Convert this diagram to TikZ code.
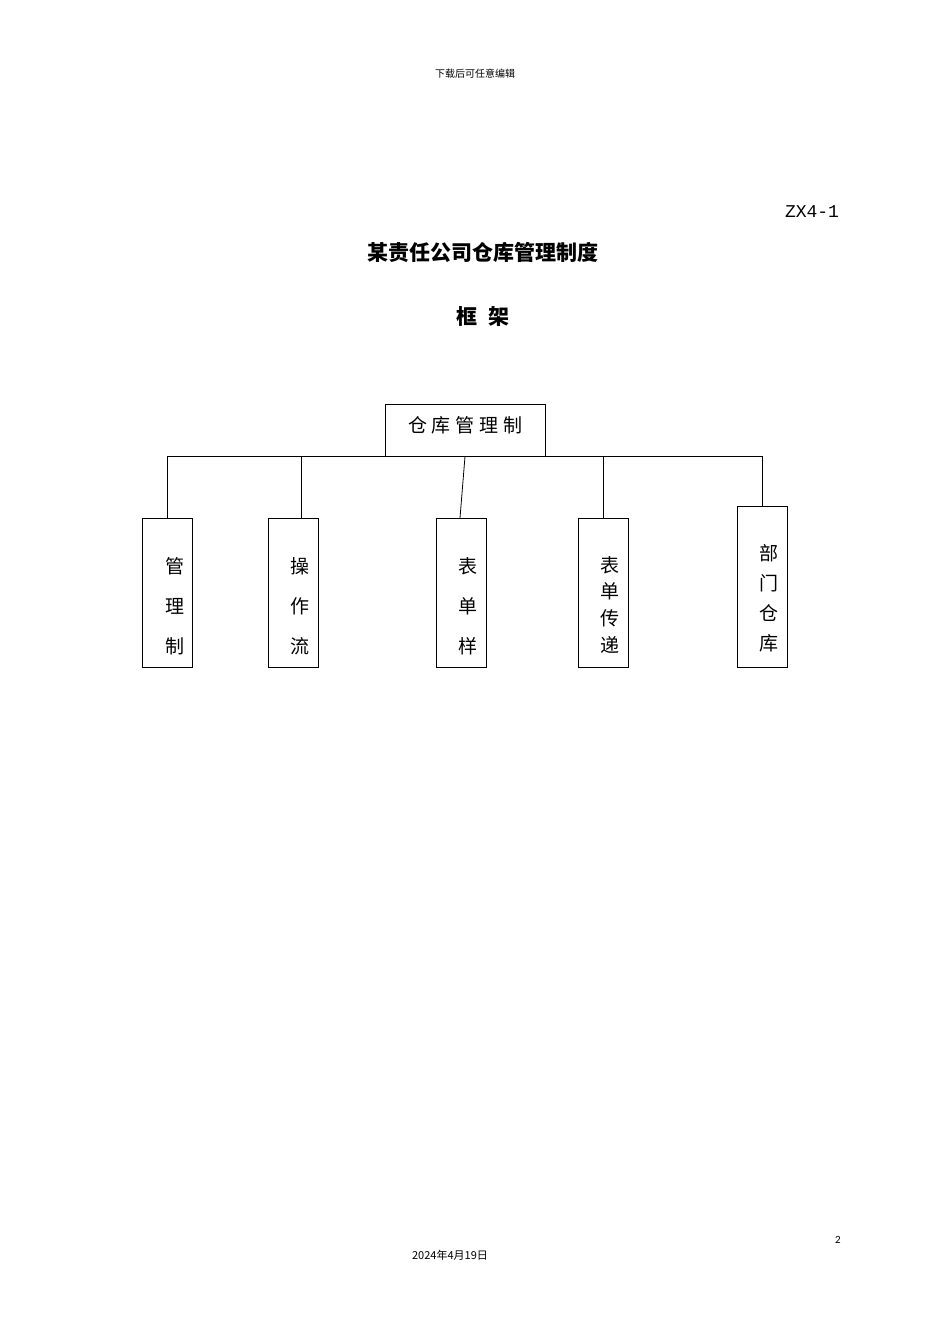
\documentclass[tikz,border=0pt]{standalone}
\usepackage{fontspec}
\newfontfamily\cjk{Noto Sans CJK SC}
\begin{document}
\begin{tikzpicture}[x=1pt,y=-1pt,
  box/.style={draw,line width=0.8pt,inner sep=0pt},
  ch/.style={font=\cjk\fontsize{19}{19}\selectfont,inner sep=0pt},
  ln/.style={line width=0.8pt}]
\path[use as bounding box] (0,0) rectangle (950,1344);
\node[font=\cjk\fontsize{10}{10}\selectfont] (hdr) at (475,74) {下载后可任意编辑};
\node[font=\fontspec{Liberation Mono}\fontsize{18}{18}\selectfont] (code) at (812,212) {ZX4-1};
\node[font=\cjk\bfseries\fontsize{21}{21}\selectfont] (title) at (483,252) {某责任公司仓库管理制度};
\node[font=\cjk\bfseries\fontsize{21}{21}\selectfont] (sub) at (483,317) {框\hspace{0.5em}架};
\node[box,minimum width=160pt,minimum height=52pt] (top) at (465,430) {};
\node[ch] (toptxt) at (465,425) {仓\hspace{0.25em}库\hspace{0.25em}管\hspace{0.25em}理\hspace{0.25em}制};
\node[box,minimum width=50pt,minimum height=149pt] (b1) at (167,592.5) {};
\node[box,minimum width=50pt,minimum height=149pt] (b2) at (293,592.5) {};
\node[box,minimum width=50pt,minimum height=149pt] (b3) at (461,592.5) {};
\node[box,minimum width=50pt,minimum height=149pt] (b4) at (603,592.5) {};
\node[box,minimum width=50pt,minimum height=161pt] (b5) at (762,586.5) {};
\foreach \t/\y in {管/566,理/606,制/646} \node[ch] at (175,\y) {\t};
\foreach \t/\y in {操/566,作/606,流/646} \node[ch] at (300,\y) {\t};
\foreach \t/\y in {表/566,单/606,样/646} \node[ch] at (468,\y) {\t};
\foreach \t/\y in {表/565,单/591,传/618,递/645} \node[ch] at (610,\y) {\t};
\foreach \t/\y in {部/553,门/583,仓/613,库/643} \node[ch] at (769,\y) {\t};
\coordinate (hl) at (167,456);
\coordinate (hr) at (762,456);
\draw[ln] (hl) -- (hr);
\draw[ln] (hl) -- (b1.north);
\draw[ln] (301,456) -- (301,518);
\draw[ln] (top.south) -- (460,518);
\draw[ln] (603,456) -- (b4.north);
\draw[ln] (hr) -- (b5.north);
\node[font=\fontspec{Carlito}\fontsize{11}{11}\selectfont] (pg) at (838,1240) {2};
\node[font=\cjk\fontsize{11}{11}\selectfont] (date) at (450,1255) {2024年4月19日};
\end{tikzpicture}
\end{document}
